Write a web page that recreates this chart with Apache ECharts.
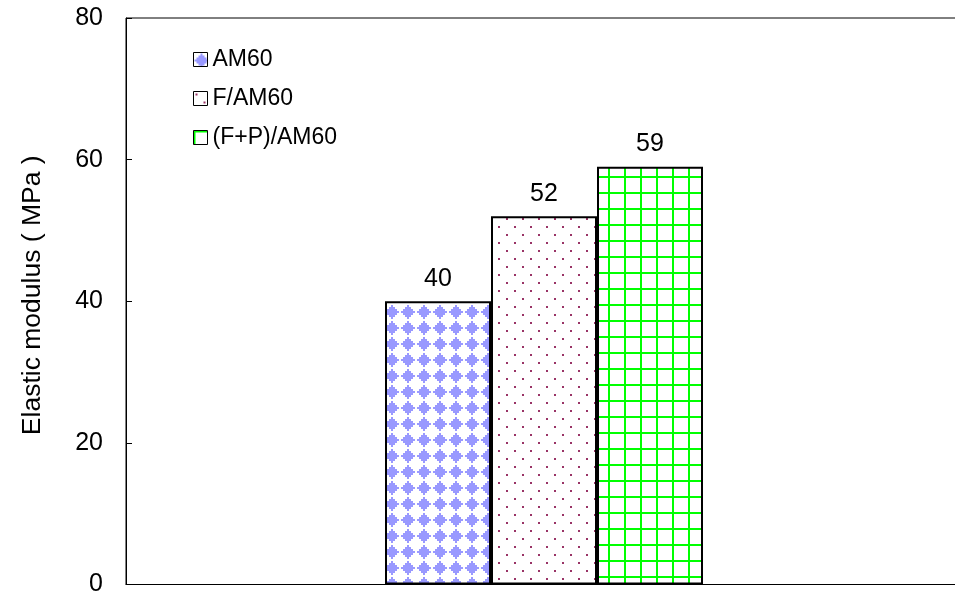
<!DOCTYPE html>
<html>
<head>
<meta charset="utf-8">
<script src="https://cdn.jsdelivr.net/npm/echarts@6/dist/echarts.min.js"></script>
<style>
  html, body { margin: 0; padding: 0; background: #fff; overflow: hidden; }
  /* the plot frame runs on past the right edge of the window */
  #chart { width: 962px; height: 597px; }
</style>
</head>
<body>
<div id="chart"></div>
<script>
// Data
const categories = ['Sample'];
const seriesNames = ['AM60', 'F/AM60', '(F+P)/AM60'];
const am60 = [40];
const fAm60 = [52];
const fpAm60 = [59];
const yTicks = [0, 20, 40, 60, 80];

const FONT = '"Liberation Sans", Arial, sans-serif';

// Fill patterns for the bars, built as small repeating canvas tiles
function diamondTile() {
  const c = document.createElement('canvas');
  c.width = 16; c.height = 16;
  const g = c.getContext('2d');
  g.fillStyle = '#ffffff';
  g.fillRect(0, 0, 16, 16);
  g.fillStyle = '#9999ff';
  // stepped diamond
  g.fillRect(7, 1, 2, 14);
  g.fillRect(5, 3, 6, 10);
  g.fillRect(3, 5, 10, 6);
  g.fillRect(1, 7, 14, 2);
  return c;
}
function dotTile() {
  const c = document.createElement('canvas');
  c.width = 16; c.height = 16;
  const g = c.getContext('2d');
  g.fillStyle = '#ffffff';
  g.fillRect(0, 0, 16, 16);
  g.fillStyle = '#993366';
  g.fillRect(2, 2, 2, 2);
  g.fillRect(10, 10, 2, 2);
  return c;
}
function gridTile() {
  const c = document.createElement('canvas');
  c.width = 16; c.height = 16;
  const g = c.getContext('2d');
  g.fillStyle = '#ffffff';
  g.fillRect(0, 0, 16, 16);
  g.fillStyle = '#00ff00';
  g.fillRect(0, 0, 16, 2);
  g.fillRect(0, 0, 2, 16);
  return c;
}

const fills = [
  { image: diamondTile(), repeat: 'repeat' },
  { image: dotTile(), repeat: 'repeat' },
  { image: gridTile(), repeat: 'repeat' }
];
const values = [am60, fAm60, fpAm60];

const chart = echarts.init(document.getElementById('chart'), null, { renderer: 'canvas' });

chart.setOption({
  backgroundColor: '#ffffff',
  animation: false,
  grid: {
    left: 126, right: 0, top: 18, bottom: 10,
    show: true, borderColor: '#000', borderWidth: 1, backgroundColor: 'transparent'
  },
  legend: {
    orient: 'vertical',
    left: 188,
    top: 43,
    itemWidth: 14,
    itemHeight: 14,
    itemGap: 16,
    icon: 'rect',
    itemStyle: { borderWidth: 1, borderColor: '#000' },
    textStyle: { fontFamily: FONT, fontSize: 23, color: '#000' },
    data: seriesNames
  },
  xAxis: {
    type: 'category',
    data: categories,
    axisLine: { lineStyle: { color: '#000', width: 1 } },
    axisTick: { show: true, inside: true, length: 4, alignWithLabel: true, lineStyle: { color: '#000' } },
    axisLabel: { show: false },
    splitLine: { show: false }
  },
  yAxis: {
    type: 'value',
    min: yTicks[0],
    max: yTicks[yTicks.length - 1],
    interval: yTicks[1] - yTicks[0],
    name: 'Elastic modulus ( MPa )',
    nameLocation: 'middle',
    nameGap: 80,
    nameTextStyle: { fontFamily: FONT, fontSize: 26.5, color: '#000', padding: [0, 0, 0, 12] },
    axisLine: { show: true, lineStyle: { color: '#000', width: 1 } },
    axisTick: { show: true, inside: true, length: 6, lineStyle: { color: '#000' } },
    axisLabel: { fontFamily: FONT, fontSize: 25, color: '#000', margin: 23 },
    splitLine: { show: false }
  },
  series: seriesNames.map((name, i) => ({
    name: name,
    type: 'bar',
    data: values[i],
    barWidth: 106,
    barGap: '0%',
    itemStyle: { color: fills[i], borderColor: '#000', borderWidth: 2 },
    label: {
      show: true,
      position: 'top',
      distance: 10,
      fontFamily: FONT,
      fontSize: 25,
      color: '#000'
    }
  }))
});
</script>
</body>
</html>
